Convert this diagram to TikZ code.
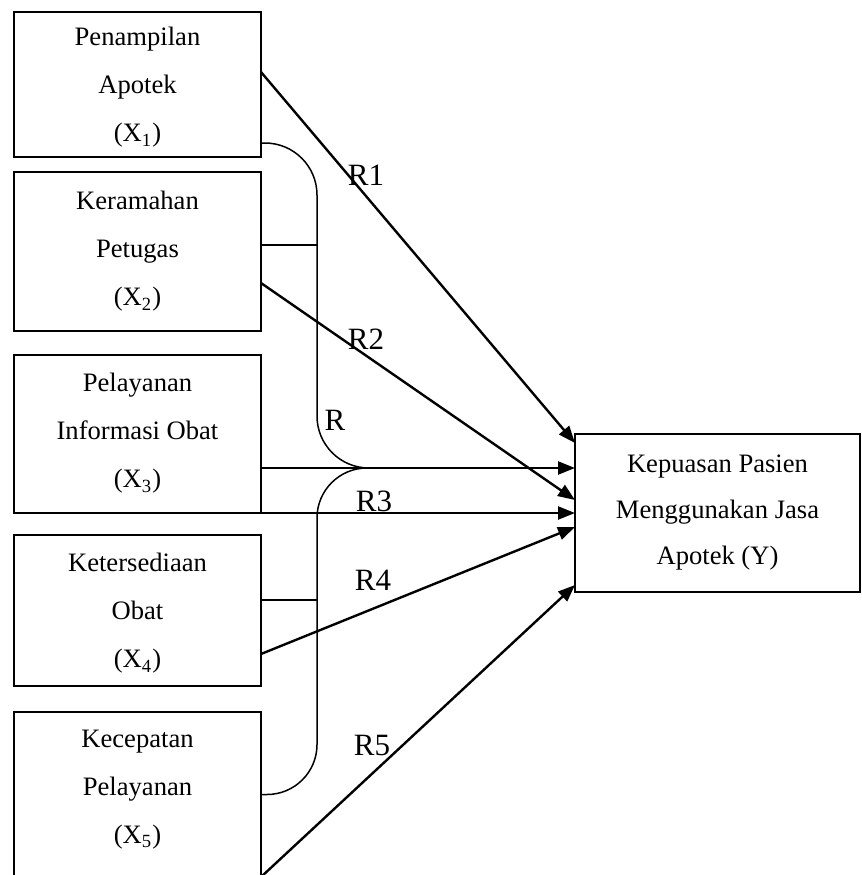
\documentclass[tikz,border=0pt]{standalone}
\usepackage{fontspec}
\setmainfont{Liberation Serif}
\usetikzlibrary{arrows.meta,positioning}

\begin{document}
\begin{tikzpicture}[x=0.5pt, y=-0.5pt,
    factor/.style={draw, line width=0.9pt, outer sep=0pt, align=center,
      minimum width=123.5pt, font=\fontsize{13.3}{24}\selectfont},
    outcome/.style={draw, line width=0.9pt, outer sep=0pt, align=center,
      minimum width=142.5pt, minimum height=79pt, font=\fontsize{13.3}{23}\selectfont},
    arrow/.style={-{Triangle[length=8.5pt,width=6.5pt]}, line width=1.2pt},
    link/.style={line width=0.75pt},
    rlabel/.style={font=\fontsize{15.5}{18}\selectfont, inner sep=0pt}
  ]
    \useasboundingbox (0,0) rectangle (862,875);
    \node[factor, minimum height=72.5pt, text depth=-2.5pt, anchor=north west] (x1) at (14,12) {Penampilan\\Apotek\\(X\textsubscript{1})};
    \node[factor, minimum height=79.5pt, text depth=2.9pt, below=7.5pt of x1] (x2) {Keramahan\\Petugas\\(X\textsubscript{2})};
    \node[factor, minimum height=79pt, text depth=3.4pt, below=12pt of x2] (x3) {Pelayanan\\Informasi Obat\\(X\textsubscript{3})};
    \node[factor, minimum height=75.5pt, text depth=0pt, below=11pt of x3] (x4) {Ketersediaan\\Obat\\(X\textsubscript{4})};
    \node[factor, minimum height=82.5pt, text depth=7.9pt, below=13pt of x4] (x5) {Kecepatan\\Pelayanan\\(X\textsubscript{5})};
    \node[outcome, anchor=north west] (sat) at (575,434) {Kepuasan Pasien\\Menggunakan Jasa\\Apotek (Y)};

    % direct paths
    \coordinate (a3) at ([yshift=-17pt]x3.east);
    \draw[arrow] ([yshift=6.25pt]x1.east) -- ([yshift=35pt]sat.west);
    \draw[arrow] ([yshift=-15.75pt]x2.east) -- ([yshift=6.5pt]sat.west);
    \draw[arrow] (a3) -- (a3 -| sat.west);
    \draw[arrow] (x3.south east) -- (x3.south east -| sat.west);
    \draw[arrow] ([yshift=-21.75pt]x4.east) -- ([yshift=-7pt]sat.west);
    \draw[arrow] (x5.south east) -- ([yshift=-36pt]sat.west);

    % joint bracket
    \coordinate (spine) at ([xshift=28pt]x3.east);
    \coordinate (rjoint) at ([xshift=53pt]a3);
    \coordinate (t2) at ([yshift=3.25pt]x2.east);
    \coordinate (t4) at ([yshift=5.25pt]x4.east);
    \draw[link, rounded corners=26pt] ([yshift=7pt]x1.south east) -| (rjoint -| spine) -- (rjoint);
    \draw[link, rounded corners=25pt] (rjoint) -- (rjoint -| spine) |- (x5.east);
    \draw[link] (t2) -- (t2 -| spine);
    \draw[link] (t4) -- (t4 -| spine);

    \node[rlabel] (r1) at (366,175) {R1};
    \node[rlabel] (r2) at (366,339) {R2};
    \node[rlabel] (r) at (335,420) {R};
    \node[rlabel] (r3) at (374,501) {R3};
    \node[rlabel] (r4) at (373,580) {R4};
    \node[rlabel] (r5) at (372,745) {R5};
  \end{tikzpicture}
\end{document}
